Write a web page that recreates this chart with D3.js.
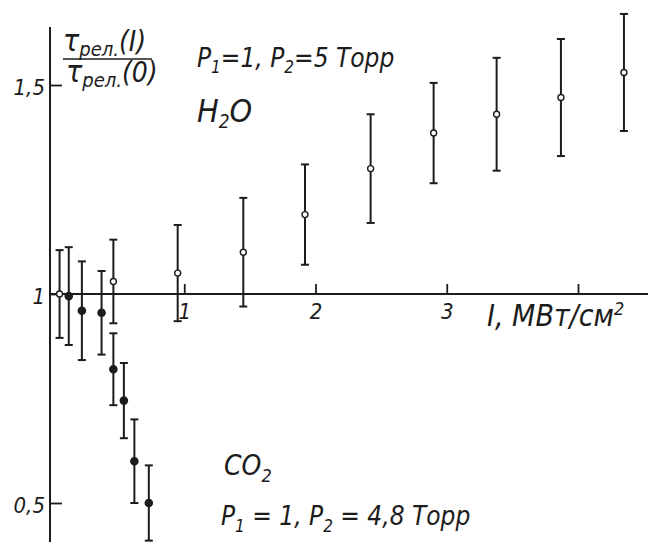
<!DOCTYPE html>
<html>
<head>
<meta charset="utf-8">
<script src="https://cdn.jsdelivr.net/npm/d3@7"></script>
<style>
  body { margin: 0; background: #fff; }
  svg { display: block; }
  .ink { fill: #1c1c1c; font-family: "Liberation Sans Narrow", "DejaVu Sans Condensed", sans-serif; font-style: italic; }
  .axis text { fill: #1c1c1c; font-family: "Liberation Sans Narrow", "DejaVu Sans Condensed", sans-serif; font-style: italic; font-size: 22px; }
  .axis line { stroke: #1c1c1c; stroke-width: 1.8; }
</style>
</head>
<body>
<svg width="648" height="542"></svg>
<script>
/* ----------------------------------------------------------
data
---------------------------------------------------------- */

// H2O, P1=1, P2=5 Торр  (open circles)
var h2oI     = [0.05, 0.46, 0.95, 1.45, 1.92, 2.42, 2.90, 3.38, 3.87, 4.35];
var h2oRatio = [1.00, 1.03, 1.05, 1.10, 1.19, 1.30, 1.385, 1.43, 1.47, 1.53];
var h2oErr   = [0.105, 0.10, 0.115, 0.13, 0.12, 0.13, 0.12, 0.135, 0.14, 0.14];

// CO2, P1=1, P2=4,8 Торр  (filled circles)
var co2I     = [0.12, 0.22, 0.37, 0.46, 0.54, 0.62, 0.73];
var co2Ratio = [0.995, 0.96, 0.955, 0.82, 0.745, 0.60, 0.50];
var co2Err   = [0.117, 0.118, 0.10, 0.086, 0.09, 0.10, 0.09];

var xTicks = [1, 2, 3, 4];
var xTickLabels = ["1", "2", "3", ""];
var yTicks = [0.5, 1, 1.5];
var yTickLabels = ["0,5", "1", "1,5"];

/* ----------------------------------------------------------
setting
---------------------------------------------------------- */

var width = 648;
var height = 542;
var ink = "#1c1c1c";
var axisX = 50;

var svg = d3.select("svg");
var x = d3.scaleLinear().domain([0, 4]).range([53, 578]);
var y = d3.scaleLinear().domain([0.5, 1.5]).range([503, 85]);

/* ----------------------------------------------------------
axes
---------------------------------------------------------- */

// vertical axis line
svg.append("line")
  .attr("x1", axisX).attr("x2", axisX)
  .attr("y1", 27).attr("y2", height)
  .attr("stroke", ink).attr("stroke-width", 2);

// horizontal axis line at ratio = 1
svg.append("line")
  .attr("x1", axisX).attr("x2", width)
  .attr("y1", y(1)).attr("y2", y(1))
  .attr("stroke", ink).attr("stroke-width", 2);

var gx = svg.append("g")
  .attr("class", "axis")
  .attr("transform", "translate(0," + y(1) + ")")
  .call(d3.axisBottom(x)
    .tickValues(xTicks)
    .tickSizeInner(-10).tickSizeOuter(0)
    .tickPadding(9)
    .tickFormat((d, i) => xTickLabels[i]));
gx.select(".domain").remove();

var gy = svg.append("g")
  .attr("class", "axis")
  .attr("transform", "translate(" + axisX + ",0)")
  .call(d3.axisLeft(y)
    .tickValues(yTicks)
    .tickSizeInner(-12).tickSizeOuter(0)
    .tickPadding(5)
    .tickFormat((d, i) => yTickLabels[i]));
gy.select(".domain").remove();
gy.selectAll("text").attr("dy", "0.45em");

/* ----------------------------------------------------------
points with error bars
---------------------------------------------------------- */

function drawSeries(xs, ys, es, open) {
  var data = xs.map((d, i) => ({ x: d, y: ys[i], e: es[i] }));
  var g = svg.append("g");
  var pts = g.selectAll("g").data(data).enter().append("g");
  pts.append("line")
    .attr("x1", d => x(d.x)).attr("x2", d => x(d.x))
    .attr("y1", d => y(d.y + d.e)).attr("y2", d => y(d.y - d.e))
    .attr("stroke", ink).attr("stroke-width", 2);
  [1, -1].forEach(function (s) {
    pts.append("line")
      .attr("x1", d => x(d.x) - 4).attr("x2", d => x(d.x) + 4)
      .attr("y1", d => y(d.y + s * d.e)).attr("y2", d => y(d.y + s * d.e))
      .attr("stroke", ink).attr("stroke-width", 2);
  });
  pts.append("circle")
    .attr("cx", d => x(d.x)).attr("cy", d => y(d.y))
    .attr("r", open ? 3 : 3.6)
    .attr("fill", open ? "#fff" : ink)
    .attr("stroke", ink).attr("stroke-width", 1.4);
}

drawSeries(h2oI, h2oRatio, h2oErr, true);
drawSeries(co2I, co2Ratio, co2Err, false);

/* ----------------------------------------------------------
texts
---------------------------------------------------------- */

function addT(px, py, size, parts) {
  var t = svg.append("text").attr("class", "ink")
    .attr("x", px).attr("y", py).style("font-size", size + "px");
  parts.forEach(function (p) {
    var ts = t.append("tspan").text(p[0]);
    if (p[1]) ts.style("font-size", p[1] + "px");
    if (p[2]) ts.attr("dy", p[2]);
  });
  return t;
}

// y label: fraction
addT(63, 51, 30, [["τ"], ["рел.", 20, 5], ["(I)", 28, -5]]);
svg.append("line")
  .attr("x1", 63).attr("x2", 152).attr("y1", 59).attr("y2", 59)
  .attr("stroke", ink).attr("stroke-width", 1.6);
addT(66, 82, 30, [["τ"], ["рел.", 20, 5], ["(0)", 28, -5]]);

// x label
addT(487, 326, 30, [["I, МВт/см"], ["2", 18, -11]]);

// H2O annotation
addT(197, 67, 26, [["P"], ["1", 17, 6], ["=1, P", null, -6], ["2", 17, 6], ["=5 Торр", null, -6]]);
addT(197, 122, 32, [["H"], ["2", 19, 6], ["O", null, -6]]);

// CO2 annotation
addT(224, 475, 28, [["CO"], ["2", 18, 7]]);
addT(221, 525, 26, [["P"], ["1", 17, 7], [" = 1, P", null, -7], ["2", 17, 7], [" = 4,8 Торр", null, -7]]);
</script>
</body>
</html>
